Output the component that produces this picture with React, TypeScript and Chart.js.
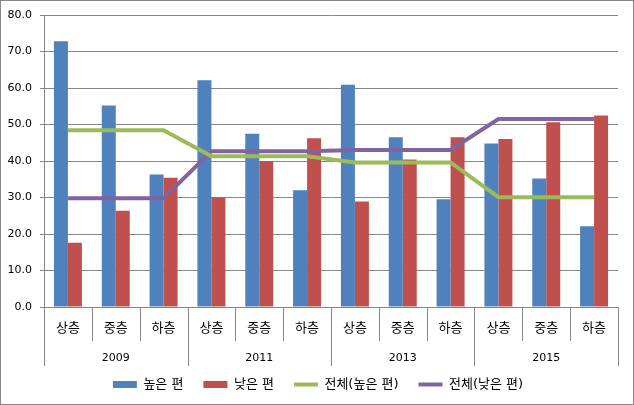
import { useEffect, useRef } from "react";
import { Chart, registerables } from "chart.js";

Chart.register(...registerables);

const categories = ["상층", "중층", "하층", "상층", "중층", "하층", "상층", "중층", "하층", "상층", "중층", "하층"];
const years = ["2009", "2011", "2013", "2015"];
const high = [72.8, 55.2, 36.3, 62.1, 47.5, 32.0, 60.9, 46.5, 29.5, 44.8, 35.2, 22.1];
const low = [17.6, 26.4, 35.4, 30.0, 40.0, 46.2, 28.9, 40.4, 46.5, 46.0, 50.6, 52.5];
const totalHigh = [48.4, 48.4, 48.4, 41.3, 41.3, 41.3, 39.6, 39.6, 39.6, 30.1, 30.1, 30.1];
const totalLow = [29.8, 29.8, 29.8, 42.7, 42.7, 42.7, 43.0, 43.0, 43.0, 51.5, 51.5, 51.5];
const seriesNames = ["높은 편", "낮은 편", "전체(높은 편)", "전체(낮은 편)"];

const FONT = "'DejaVu Sans', 'Noto Sans CJK KR', sans-serif";
const GRID = "#868686";

const framePlugin = {
  id: "frame",
  afterLayout(chart: any) {
    const lg = chart.legend;
    if (lg) {
      lg.left += 9;
      lg.right += 9;
      lg.top -= 6;
      lg.bottom -= 6;
    }
  },
  beforeDraw(chart: any) {
    const { ctx, width, height } = chart;
    ctx.save();
    ctx.fillStyle = "#ffffff";
    ctx.fillRect(0, 0, width, height);
    ctx.restore();
  },
  afterDraw(chart: any) {
    const { ctx, chartArea, scales, width, height } = chart;
    const xs = scales.x;
    const n = categories.length;
    const w = (chartArea.right - chartArea.left) / n;
    ctx.save();
    ctx.strokeStyle = GRID;
    ctx.lineWidth = 1;
    for (let i = 0; i <= n; i++) {
      const px = i < n ? xs.getPixelForValue(i) - w / 2 : xs.getPixelForValue(n - 1) + w / 2;
      const x = Math.round(px) + 0.5;
      const len = i % 3 === 0 ? 59 : 34;
      ctx.beginPath();
      ctx.moveTo(x, chartArea.bottom);
      ctx.lineTo(x, chartArea.bottom + len);
      ctx.stroke();
    }
    ctx.strokeRect(0.5, 0.5, width - 1, height - 1);
    ctx.restore();
  },
};

export default function App() {
  const ref = useRef<HTMLCanvasElement>(null);

  useEffect(() => {
    if (!ref.current) return;
    const chart = new Chart(ref.current, {
      type: "bar",
      data: {
        labels: categories,
        datasets: [
          {
            type: "bar",
            label: seriesNames[0],
            data: high,
            backgroundColor: "#4F81BD",
            borderWidth: 0,
            pointStyle: "rect",
            order: 1,
            categoryPercentage: 0.585,
            barPercentage: 1,
          } as any,
          {
            type: "bar",
            label: seriesNames[1],
            data: low,
            backgroundColor: "#C0504D",
            borderWidth: 0,
            pointStyle: "rect",
            order: 1,
            categoryPercentage: 0.585,
            barPercentage: 1,
          } as any,
          {
            type: "line",
            label: seriesNames[2],
            data: totalHigh,
            borderColor: "#9BBB59",
            backgroundColor: "#9BBB59",
            borderWidth: 4,
            pointRadius: 0,
            pointBorderWidth: 4,
            pointStyle: "line",
            tension: 0,
            order: 0,
          } as any,
          {
            type: "line",
            label: seriesNames[3],
            data: totalLow,
            borderColor: "#8064A2",
            backgroundColor: "#8064A2",
            borderWidth: 4,
            pointRadius: 0,
            pointBorderWidth: 4,
            pointStyle: "line",
            tension: 0,
            order: 0,
          } as any,
        ],
      },
      options: {
        animation: false,
        responsive: false,
        devicePixelRatio: 1,
        layout: { padding: { top: 15, right: 16, left: 0, bottom: -2 } },
        plugins: {
          tooltip: { enabled: false },
          legend: {
            position: "bottom",
            labels: {
              usePointStyle: true,
              pointStyleWidth: 24,
              boxHeight: 7,
              padding: 20,
              color: "#000",
              font: { family: FONT, size: 13 },
              sort: (a: any, b: any) => a.datasetIndex - b.datasetIndex,
            },
          },
        },
        scales: {
          x: {
            type: "category",
            position: "bottom",
            offset: true,
            grid: { display: false, drawTicks: false },
            border: { display: true, color: GRID },
            ticks: {
              color: "#000",
              font: { family: FONT, size: 13 },
              padding: 14,
              maxRotation: 0,
              autoSkip: false,
            },
            afterFit: (s: any) => {
              s.height = 38;
            },
          },
          x2: {
            type: "category",
            position: "bottom",
            labels: years,
            offset: true,
            grid: { display: false, drawTicks: false },
            border: { display: false },
            ticks: {
              color: "#000",
              font: { family: FONT, size: 11 },
              padding: 7,
              maxRotation: 0,
              autoSkip: false,
            },
            afterFit: (s: any) => {
              s.height = 19;
            },
          },
          y: {
            min: 0,
            max: 80,
            ticks: {
              stepSize: 10,
              color: "#000",
              font: { family: FONT, size: 11 },
              padding: 8,
              callback: (v: any) => Number(v).toFixed(1),
            },
            grid: { color: GRID, tickLength: 4, drawTicks: true },
            border: { display: true, color: GRID },
            afterFit: (s: any) => {
              s.width = 44;
            },
          },
        },
      } as any,
      plugins: [framePlugin],
    });
    return () => chart.destroy();
  }, []);

  return (
    <div style={{ position: "absolute", left: 0, top: 0, width: 634, height: 405 }}>
      <canvas ref={ref} width={634} height={405} style={{ display: "block" }} />
    </div>
  );
}
